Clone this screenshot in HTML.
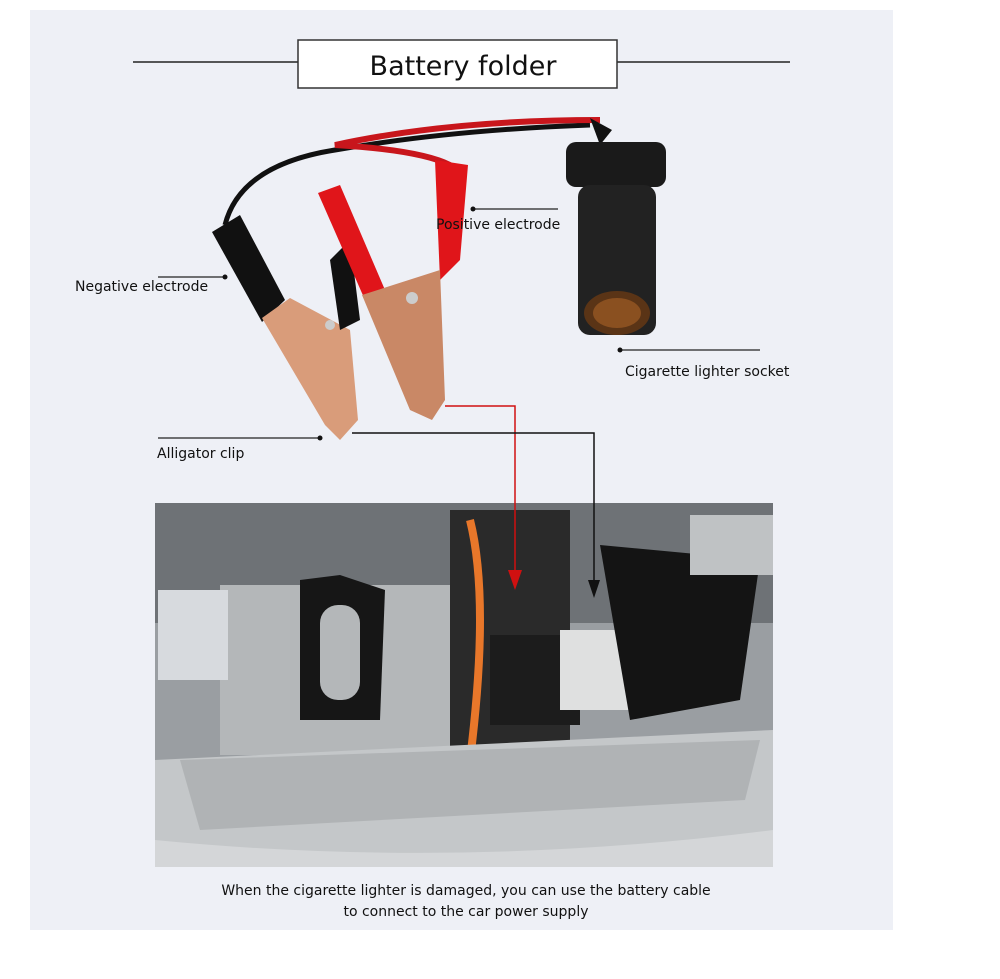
<!DOCTYPE html>
<html><head><meta charset="utf-8"><style>
html,body{margin:0;padding:0;background:#fff}
svg{display:block}
text{font-family:"DejaVu Sans","Liberation Sans",sans-serif;fill:#111}
</style></head><body>
<svg width="1000" height="979" viewBox="0 0 1000 979" xmlns="http://www.w3.org/2000/svg">
<rect x="30" y="10" width="863" height="920" fill="#eef0f6"/>
<!-- title -->
<line x1="133" y1="62" x2="298" y2="62" stroke="#222" stroke-width="1.5"/>
<line x1="617" y1="62" x2="790" y2="62" stroke="#222" stroke-width="1.5"/>
<rect x="298" y="40" width="319" height="48" fill="#fff" stroke="#333" stroke-width="1.5"/>
<text x="463" y="75" font-size="27" text-anchor="middle">Battery folder</text>
<!-- cables -->
<path d="M590 125 Q450 130 335 150 Q240 165 225 225" stroke="#111" stroke-width="5" fill="none"/>
<path d="M600 120 Q450 120 335 145 Q420 150 450 165" stroke="#c8161c" stroke-width="6" fill="none"/>
<!-- socket -->
<path d="M590 118 L612 130 L600 145 Z" fill="#111"/>
<rect x="566" y="142" width="100" height="45" rx="10" fill="#1a1a1a"/>
<rect x="578" y="185" width="78" height="150" rx="12" fill="#222"/>
<ellipse cx="617" cy="313" rx="33" ry="22" fill="#5a3416"/>
<ellipse cx="617" cy="313" rx="24" ry="15" fill="#8a5020"/>
<!-- black clip -->
<path d="M212 232 L240 215 L285 300 L262 322 Z" fill="#111"/>
<path d="M262 318 L290 298 L350 330 L358 420 L340 440 L325 425 Z" fill="#d99c7a"/>
<path d="M330 260 L350 240 L360 320 L340 330 Z" fill="#111"/>
<!-- red clip -->
<path d="M318 193 L340 185 L385 290 L365 300 Z" fill="#e0151a"/>
<path d="M435 160 L468 165 L460 260 L440 280 Z" fill="#e0151a"/>
<path d="M362 295 L440 270 L445 400 L432 420 L410 410 Z" fill="#c98866"/>
<circle cx="412" cy="298" r="6" fill="#ccc"/>
<circle cx="330" cy="325" r="5" fill="#ccc"/>
<!-- labels -->
<line x1="158" y1="277" x2="225" y2="277" stroke="#222" stroke-width="1.3"/><circle cx="225" cy="277" r="2.5" fill="#111"/>
<text x="75" y="291" font-size="14">Negative electrode</text>
<line x1="473" y1="209" x2="558" y2="209" stroke="#222" stroke-width="1.3"/><circle cx="473" cy="209" r="2.5" fill="#111"/>
<text x="436" y="229" font-size="14">Positive electrode</text>
<line x1="620" y1="350" x2="760" y2="350" stroke="#222" stroke-width="1.3"/><circle cx="620" cy="350" r="2.5" fill="#111"/>
<text x="625" y="376" font-size="14">Cigarette lighter socket</text>
<line x1="158" y1="438" x2="320" y2="438" stroke="#222" stroke-width="1.3"/><circle cx="320" cy="438" r="2.5" fill="#111"/>
<text x="157" y="458" font-size="14">Alligator clip</text>
<!-- photo -->
<rect x="155" y="503" width="618" height="364" fill="#9a9ea2"/>
<rect x="155" y="503" width="618" height="120" fill="#6e7276"/>
<rect x="220" y="585" width="230" height="170" fill="#b4b7b9"/>
<path d="M300 580 L340 575 L385 590 L380 720 L300 720 Z" fill="#161616"/>
<rect x="320" y="605" width="40" height="95" rx="18" fill="#b4b7b9"/>
<rect x="158" y="590" width="70" height="90" fill="#d7dade"/>
<rect x="450" y="510" width="120" height="260" fill="#2a2a2a"/>
<path d="M470 520 Q490 600 470 760" stroke="#e8772a" stroke-width="8" fill="none"/>
<rect x="490" y="635" width="90" height="90" fill="#1c1c1c"/>
<rect x="560" y="630" width="70" height="80" fill="#dfe0e0"/>
<path d="M600 545 L760 560 L740 700 L630 720 Z" fill="#141414"/>
<rect x="690" y="515" width="83" height="60" fill="#bfc2c4"/>
<path d="M155 760 L773 730 L773 867 L155 867 Z" fill="#c4c7c9"/>
<path d="M180 760 L760 740 L745 800 L200 830 Z" fill="#b0b3b5"/>
<path d="M155 840 Q460 870 773 830 L773 867 L155 867 Z" fill="#d4d6d8"/>
<!-- connector lines -->
<polyline points="445,406 515,406 515,580" stroke="#d01010" stroke-width="1.5" fill="none"/>
<path d="M508 570 L515 590 L522 570 Z" fill="#d01010"/>
<polyline points="352,433 594,433 594,590" stroke="#111" stroke-width="1.5" fill="none"/>
<path d="M588 580 L594 598 L600 580 Z" fill="#111"/>
<!-- caption -->
<text x="466" y="895" font-size="14" text-anchor="middle">When the cigarette lighter is damaged, you can use the battery cable</text>
<text x="466" y="916" font-size="14" text-anchor="middle">to connect to the car power supply</text>
</svg>
</body></html>
